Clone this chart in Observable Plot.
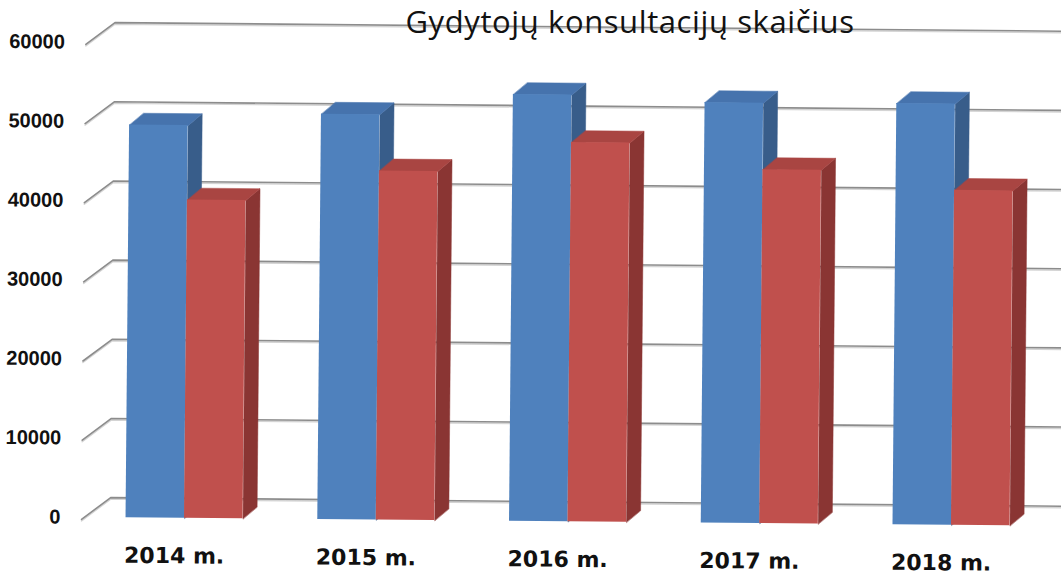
<!DOCTYPE html>
<html>
<head>
<meta charset="utf-8">
<script src="https://cdn.jsdelivr.net/npm/d3@7"></script>
<script src="https://cdn.jsdelivr.net/npm/@observablehq/plot@0.6"></script>
<style>
html, body { margin: 0; padding: 0; background: #fff; overflow: hidden; }
#wrap { position: relative; width: 1061px; height: 577px; }
#chart svg { transform: rotate(0.52deg); transform-origin: 100px 300px; }
#title { position: absolute; top: 6px; left: 630px; transform: translateX(-50%);
  font-family: "Open Sans", sans-serif; font-size: 31px; line-height: 31px; letter-spacing: 0.6px;
  color: #111; white-space: nowrap; }
</style>
</head>
<body>
<div id="wrap">
  <div id="chart"></div>
  <div id="title">Gydytojų konsultacijų skaičius</div>
</div>
<script>
// ---- data ----
const years = ["2014", "2015", "2016", "2017", "2018"];
const yearLabels = ["2014 m.", "2015 m.", "2016 m.", "2017 m.", "2018 m."];
const seriesBlue = [49600, 51200, 53900, 53100, 53200];
const seriesRed = [40200, 44100, 47900, 44700, 42300];
const yTicks = [0, 10000, 20000, 30000, 40000, 50000, 60000];

// ---- pseudo-3D geometry (pixel sizes converted to data units) ----
const groupStep = 191.75;          // px between year groups
const unitPx = 79.17;              // px per 10000
const pxX = 1 / groupStep;
const pxY = 10000 / unitPx;
const barW = 58.5 * pxX;
const dX = 14 * pxX, dY = 12 * pxY;          // bar depth
const wallX0 = -103 * pxX, wallX1 = -74 * pxX; // gridline slant
const wallRight = 4.65;

const colors = {
  blue: {front: "#4f81bd", top: "#4673ad", side: "#385d8a"},
  red:  {front: "#c0504d", top: "#a94542", side: "#8a3533"}
};

function faces(values, s) {
  const front = [], top = [], side = [];
  values.forEach((v, i) => {
    const x0 = i - barW + s * barW, x1 = x0 + barW;
    const id = years[i];
    front.push({x1: x0, x2: x1, y1: 0, y2: v});
    top.push({id, x: x0, y: v}, {id, x: x1, y: v}, {id, x: x1 + dX, y: v + dY}, {id, x: x0 + dX, y: v + dY});
    side.push({id, x: x1, y: 0}, {id, x: x1, y: v}, {id, x: x1 + dX, y: v + dY}, {id, x: x1 + dX, y: dY});
  });
  return {front, top, side};
}
const fb = faces(seriesBlue, 0);
const fr = faces(seriesRed, 1);

const grid = [];
yTicks.forEach(t => {
  grid.push({t, x: wallX0, y: t - 2 * pxY}, {t, x: wallX1, y: t + 20 * pxY}, {t, x: wallRight, y: t + 20 * pxY});
});

function barMarks(f, c) {
  return [
    Plot.line(f.side, {x: "x", y: "y", z: "id", fill: c.side, stroke: c.side, strokeWidth: 0.5, curve: "linear-closed"}),
    Plot.line(f.top, {x: "x", y: "y", z: "id", fill: c.top, stroke: c.top, strokeWidth: 0.5, curve: "linear-closed"}),
    Plot.rect(f.front, {x1: "x1", x2: "x2", y1: "y1", y2: "y2", fill: c.front})
  ];
}

const chart = Plot.plot({
  width: 1061,
  height: 577,
  marginLeft: 62,
  marginRight: 0,
  marginTop: 0,
  marginBottom: 0,
  style: {fontFamily: "DejaVu Sans", color: "#111", background: "transparent", overflow: "visible"},
  x: {type: "linear", domain: [0, 4], range: [186, 953], axis: null},
  y: {type: "linear", domain: [0, 60000], range: [517, 42], axis: null},
  marks: [
    Plot.line(grid, {x: "x", y: "y", z: "t", stroke: "#d4d4d4", strokeWidth: 1.5, dy: 1.5}),
    Plot.line(grid, {x: "x", y: "y", z: "t", stroke: "#8c8c8c", strokeWidth: 1.6}),
    ...barMarks(fb, colors.blue),
    ...barMarks(fr, colors.red),
    Plot.axisY(yTicks, {anchor: "left", tickSize: 0, tickPadding: 0, fontSize: 20, fontWeight: "bold",
      fontFamily: "Liberation Sans", tickFormat: d => String(d), label: null}),
    Plot.text(yearLabels, {x: (d, i) => i, y: () => 0, text: d => d, dy: 38, dx: -10,
      fontSize: 22, fontWeight: "bold", fill: "#111"})
  ]
});
document.getElementById("chart").appendChild(chart);
</script>
</body>
</html>
